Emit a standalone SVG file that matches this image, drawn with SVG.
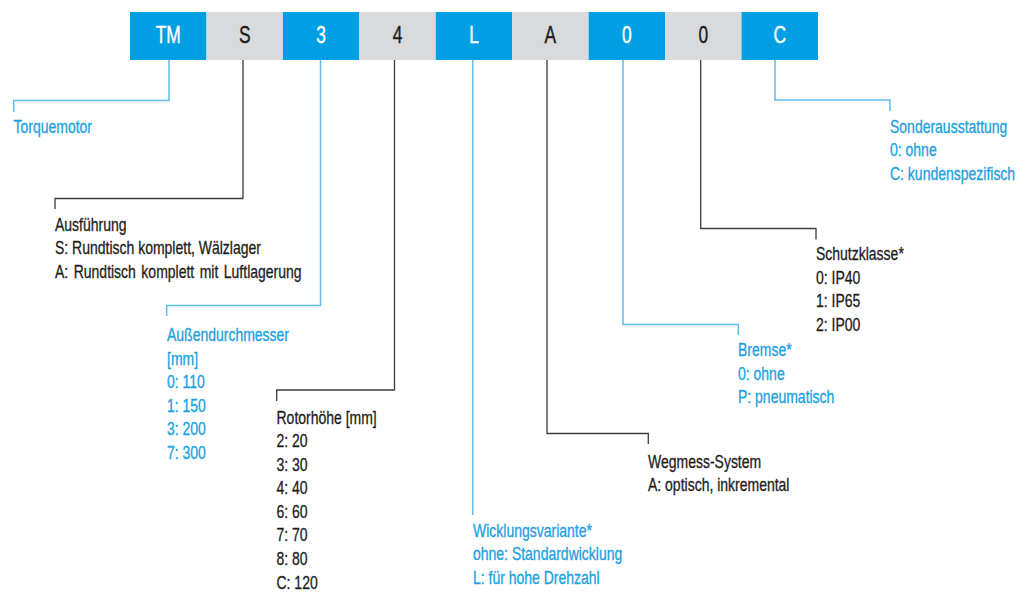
<svg xmlns="http://www.w3.org/2000/svg" width="1019" height="592" viewBox="0 0 1019 592">
<style>
text{font-family:"Liberation Sans",Arial,sans-serif;}
.bb{fill:#009FE3;}
.gb{fill:#D9DADC;}
.bt{font-size:23.5px;text-anchor:middle;}
.wt{fill:#FFFFFF;stroke:#FFFFFF;stroke-width:0.4;}
.dt{fill:#1D1D1B;stroke:#1D1D1B;stroke-width:0.4;}
.lbl{font-size:17.5px;stroke-width:0.3;}
.blue{fill:#1AA1E0;stroke:#1AA1E0;}
.dark{fill:#1D1D1B;stroke:#1D1D1B;}
.cb{fill:none;stroke:#5DBFEA;stroke-width:1.5;}
.cd{fill:none;stroke:#3C3C3B;stroke-width:1.3;}
</style>
<rect width="1019" height="592" fill="#FFFFFF"/>
<g id="code">
<g id="box-TM"><rect class="bb" x="130" y="12" width="76.44" height="48"/><text class="bt wt" transform="translate(168.2,43) scale(0.74,1)">TM</text></g>
<g id="box-S"><rect class="gb" x="206.44" y="12" width="76.45" height="48"/><text class="bt dt" transform="translate(244.7,43) scale(0.74,1)">S</text></g>
<g id="box-3"><rect class="bb" x="282.89" y="12" width="76.44" height="48"/><text class="bt wt" transform="translate(321.1,43) scale(0.74,1)">3</text></g>
<g id="box-4"><rect class="gb" x="359.33" y="12" width="76.45" height="48"/><text class="bt dt" transform="translate(397.6,43) scale(0.74,1)">4</text></g>
<g id="box-L"><rect class="bb" x="435.78" y="12" width="76.44" height="48"/><text class="bt wt" transform="translate(474,43) scale(0.74,1)">L</text></g>
<g id="box-A"><rect class="gb" x="512.22" y="12" width="76.45" height="48"/><text class="bt dt" transform="translate(550.4,43) scale(0.74,1)">A</text></g>
<g id="box-0a"><rect class="bb" x="588.67" y="12" width="76.44" height="48"/><text class="bt wt" transform="translate(626.9,43) scale(0.74,1)">0</text></g>
<g id="box-0b"><rect class="gb" x="665.11" y="12" width="76.45" height="48"/><text class="bt dt" transform="translate(703.3,43) scale(0.74,1)">0</text></g>
<g id="box-C"><rect class="bb" x="741.56" y="12" width="76.44" height="48"/><text class="bt wt" transform="translate(779.8,43) scale(0.74,1)">C</text></g>
</g>
<g id="connectors">
<path class="cb" d="M169,60 V100.5 H13.7 V112"/>
<path class="cd" d="M243,60 V198.5 H55 V209"/>
<path class="cb" d="M320.5,60 V305.5 H166.7 V316"/>
<path class="cd" d="M394.5,60 V390 H276.7 V401"/>
<path class="cb" d="M472.7,60 V515"/>
<path class="cd" d="M547,60 V433.5 H648.3 V444"/>
<path class="cb" d="M623,60 V324.5 H738.3 V335"/>
<path class="cd" d="M700.7,60 V228.5 H816 V239.5"/>
<path class="cb" d="M775,60 V100 H890 V111"/>
</g>
<g id="label-torquemotor" transform="translate(13.5,133) scale(0.8,1)"><text class="lbl blue" x="0" y="0">Torquemotor</text></g>
<g id="label-ausfuehrung" transform="translate(55,230.5) scale(0.8,1)">
<text class="lbl dark" x="0" y="0">Ausführung</text>
<text class="lbl dark" x="0" y="23.6">S: Rundtisch komplett, Wälzlager</text>
<text class="lbl dark" x="0" y="47.2" word-spacing="2">A: Rundtisch komplett mit Luftlagerung</text>
</g>
<g id="label-aussendurchmesser" transform="translate(167,341) scale(0.8,1)">
<text class="lbl blue" x="0" y="0">Außendurchmesser</text>
<text class="lbl blue" x="0" y="23.6">[mm]</text>
<text class="lbl blue" x="0" y="47.2">0: 110</text>
<text class="lbl blue" x="0" y="70.8">1: 150</text>
<text class="lbl blue" x="0" y="94.4">3: 200</text>
<text class="lbl blue" x="0" y="118">7: 300</text>
</g>
<g id="label-rotorhoehe" transform="translate(276.5,423.5) scale(0.8,1)">
<text class="lbl dark" x="0" y="0">Rotorhöhe [mm]</text>
<text class="lbl dark" x="0" y="23.6">2: 20</text>
<text class="lbl dark" x="0" y="47.2">3: 30</text>
<text class="lbl dark" x="0" y="70.8">4: 40</text>
<text class="lbl dark" x="0" y="94.4">6: 60</text>
<text class="lbl dark" x="0" y="118">7: 70</text>
<text class="lbl dark" x="0" y="141.6">8: 80</text>
<text class="lbl dark" x="0" y="165.2">C: 120</text>
</g>
<g id="label-wicklung" transform="translate(473,536.5) scale(0.8,1)">
<text class="lbl blue" x="0" y="0">Wicklungsvariante*</text>
<text class="lbl blue" x="0" y="23.6">ohne: Standardwicklung</text>
<text class="lbl blue" x="0" y="47.2">L: für hohe Drehzahl</text>
</g>
<g id="label-wegmess" transform="translate(648,467.5) scale(0.8,1)">
<text class="lbl dark" x="0" y="0">Wegmess-System</text>
<text class="lbl dark" x="0" y="23.6">A: optisch, inkremental</text>
</g>
<g id="label-bremse" transform="translate(738,356) scale(0.8,1)">
<text class="lbl blue" x="0" y="0">Bremse*</text>
<text class="lbl blue" x="0" y="23.6">0: ohne</text>
<text class="lbl blue" x="0" y="47.2">P: pneumatisch</text>
</g>
<g id="label-schutzklasse" transform="translate(816,260) scale(0.8,1)">
<text class="lbl dark" x="0" y="0">Schutzklasse*</text>
<text class="lbl dark" x="0" y="23.6">0: IP40</text>
<text class="lbl dark" x="0" y="47.2">1: IP65</text>
<text class="lbl dark" x="0" y="70.8">2: IP00</text>
</g>
<g id="label-sonder" transform="translate(890,132.5) scale(0.8,1)">
<text class="lbl blue" x="0" y="0">Sonderausstattung</text>
<text class="lbl blue" x="0" y="23.6">0: ohne</text>
<text class="lbl blue" x="0" y="47.2">C: kundenspezifisch</text>
</g>
</svg>
